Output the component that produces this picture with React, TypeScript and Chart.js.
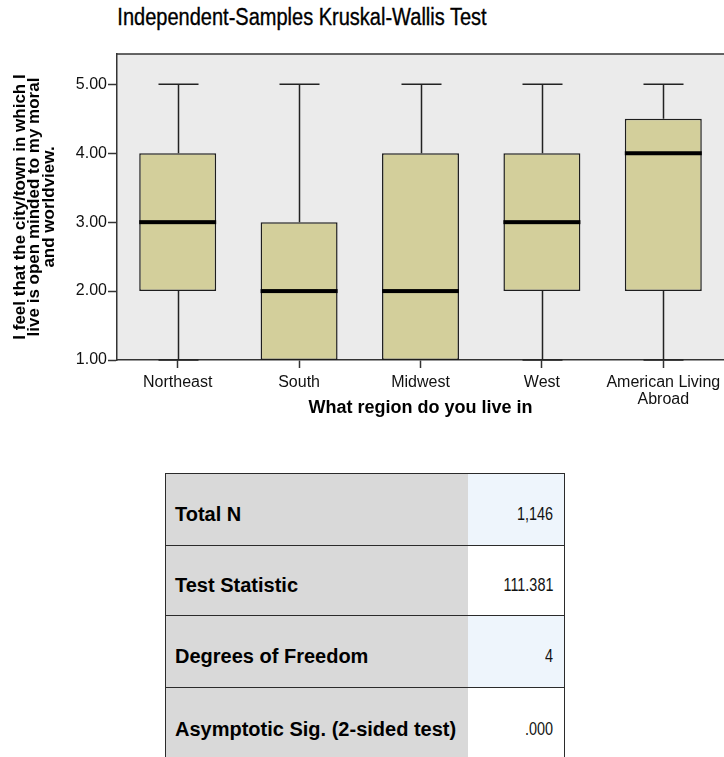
import React, { useEffect, useRef } from "react";
import { Chart, registerables } from "chart.js";

Chart.register(...registerables);

const FONT = "'Liberation Sans', Arial, Helvetica, sans-serif";

// ---- chart data ----
const chartTitle = "Independent-Samples Kruskal-Wallis Test";
const regions: (string | string[])[] = ["Northeast", "South", "Midwest", "West", ["American Living", "Abroad"]];
const minVals = [1, 1, 1, 1, 1];
const q1Vals = [2, 1, 1, 2, 2];
const medianVals = [3, 2, 2, 3, 4];
const q3Vals = [4, 3, 4, 4, 4.5];
const maxVals = [5, 5, 5, 5, 5];
const yAxisMin = 1;
const yAxisMax = 5.44;
const yAxisTitle = ["I feel that the city/town in which I", "live is open minded to my moral", "and worldview."];
const xAxisTitle = "What region do you live in";

// ---- table data ----
const tableLabels = ["Total N", "Test Statistic", "Degrees of Freedom", "Asymptotic Sig. (2-sided test)"];
const tableValues = ["1,146", "111.381", "4", ".000"];

const CANVAS_W = 724;
const CANVAS_H = 430;
const PLOT_LEFT = 117;
const PLOT_TOP = 54;
const PLOT_BOTTOM = 360;

const plotBgPlugin = {
  id: "plotBg",
  beforeDraw(chart: any) {
    const { ctx, chartArea } = chart;
    ctx.save();
    ctx.fillStyle = "#ebebeb";
    ctx.fillRect(chartArea.left, chartArea.top, chartArea.right - chartArea.left, chartArea.bottom - chartArea.top);
    ctx.restore();
  },
  afterDraw(chart: any) {
    const { ctx, chartArea } = chart;
    ctx.save();
    ctx.strokeStyle = "#333";
    ctx.lineWidth = 1.5;
    ctx.beginPath();
    ctx.moveTo(chartArea.left, chartArea.top);
    ctx.lineTo(chartArea.right, chartArea.top);
    ctx.stroke();
    ctx.restore();
  },
};

const boxPlugin = {
  id: "boxDecor",
  afterDatasetsDraw(chart: any) {
    const { ctx } = chart;
    const xs = chart.scales.x;
    const ys = chart.scales.y;
    const meta = chart.getDatasetMeta(0);
    ctx.save();
    regions.forEach((_, i) => {
      const cx = Math.round(xs.getPixelForValue(i)) + 0.5;
      const bar = meta.data[i];
      const w = bar.width;
      const capHalf = w * 0.26;
      ctx.strokeStyle = "#222";
      ctx.lineWidth = 1.5;
      if (maxVals[i] > q3Vals[i]) {
        const yTop = ys.getPixelForValue(maxVals[i]);
        const yQ3 = ys.getPixelForValue(q3Vals[i]);
        ctx.beginPath();
        ctx.moveTo(cx, yQ3);
        ctx.lineTo(cx, yTop);
        ctx.moveTo(cx - capHalf, yTop);
        ctx.lineTo(cx + capHalf, yTop);
        ctx.stroke();
      }
      if (minVals[i] < q1Vals[i]) {
        const yBot = ys.getPixelForValue(minVals[i]);
        const yQ1 = ys.getPixelForValue(q1Vals[i]);
        ctx.beginPath();
        ctx.moveTo(cx, yQ1);
        ctx.lineTo(cx, yBot);
        ctx.moveTo(cx - capHalf, yBot);
        ctx.lineTo(cx + capHalf, yBot);
        ctx.stroke();
      }
      const ym = ys.getPixelForValue(medianVals[i]);
      ctx.fillStyle = "#000";
      ctx.fillRect(bar.x - w / 2, ym - 2, w, 4);
    });
    ctx.restore();
  },
};

function BoxChart() {
  const ref = useRef<HTMLCanvasElement>(null);
  useEffect(() => {
    if (!ref.current) return;
    const chart = new Chart(ref.current, {
      type: "bar",
      data: {
        labels: regions as any,
        datasets: [
          {
            data: q1Vals.map((q, i) => [q, q3Vals[i]]) as any,
            backgroundColor: "#d3cf9b",
            borderColor: "#1e1e1e",
            borderWidth: 1.5,
            borderSkipped: false,
            barPercentage: 0.634,
            categoryPercentage: 1,
          },
        ],
      },
      options: {
        animation: false,
        responsive: false,
        devicePixelRatio: 1,
        layout: { padding: { left: 0, right: 0, top: PLOT_TOP, bottom: 0 } },
        plugins: { legend: { display: false }, tooltip: { enabled: false }, title: { display: false } },
        scales: {
          x: {
            type: "category",
            offset: true,
            ticks: {
              font: { family: FONT, size: 16, lineHeight: 1.05 },
              color: "#111",
              padding: 6,
              maxRotation: 0,
              minRotation: 0,
              autoSkip: false,
            },
            grid: { drawOnChartArea: false, offset: false, tickLength: 8, tickColor: "#333", tickWidth: 1.5 },
            border: { display: true, color: "#333", width: 1.5 },
            title: {
              display: true,
              text: xAxisTitle,
              font: { family: FONT, size: 18, weight: "bold", lineHeight: 1 },
              color: "#000",
              padding: { top: 0, bottom: 13 },
            },
            afterFit: (s: any) => {
              s.height = CANVAS_H - PLOT_BOTTOM;
              s.paddingLeft = 0;
              s.paddingRight = 0;
            },
          },
          y: {
            type: "linear",
            min: yAxisMin,
            max: yAxisMax,
            ticks: {
              stepSize: 1,
              includeBounds: false,
              callback: (v: any) => Number(v).toFixed(2),
              font: { family: FONT, size: 16 },
              color: "#111",
              padding: 1,
            },
            grid: { drawOnChartArea: false, tickLength: 9, tickColor: "#333", tickWidth: 1.5 },
            border: { display: true, color: "#333", width: 1.5 },
            title: {
              display: true,
              text: yAxisTitle,
              font: { family: FONT, size: 17, weight: "bold", lineHeight: 0.85 },
              color: "#000",
              padding: { top: 13, bottom: 0 },
            },
            afterFit: (s: any) => {
              s.width = PLOT_LEFT;
              s.paddingTop = 0;
              s.paddingBottom = 0;
            },
          },
        },
      },
      plugins: [plotBgPlugin, boxPlugin],
    } as any);
    return () => chart.destroy();
  }, []);
  return (
    <canvas
      ref={ref}
      width={CANVAS_W}
      height={CANVAS_H}
      style={{ position: "absolute", left: 0, top: 0, width: CANVAS_W, height: CANVAS_H }}
    />
  );
}

const rowHeights = [72, 70, 72, 74];
const valueBgs = ["#eef5fc", "#ffffff", "#eef5fc", "#ffffff"];

export default function App() {
  useEffect(() => {
    const prev = document.body.style.margin;
    document.body.style.margin = "0";
    return () => {
      document.body.style.margin = prev;
    };
  }, []);
  return (
    <div
      style={{
        position: "relative",
        width: 724,
        height: 757,
        overflow: "hidden",
        background: "#fff",
        fontFamily: FONT,
        color: "#000",
      }}
    >
      <div
        style={{
          position: "absolute",
          left: 0,
          top: 5,
          width: 604,
          textAlign: "center",
          fontSize: 23,
          lineHeight: "25px",
          whiteSpace: "nowrap",
          WebkitTextStroke: "0.35px #000",
          transform: "scaleX(0.87)",
          transformOrigin: "302px 50%",
        }}
      >
        {chartTitle}
      </div>
      <BoxChart />
      <div
        style={{
          position: "absolute",
          left: 165,
          top: 473,
          width: 400,
          borderTop: "1.5px solid #2b2b2b",
          borderLeft: "1.5px solid #2b2b2b",
          borderRight: "1.5px solid #2b2b2b",
          boxSizing: "border-box",
        }}
      >
        {tableLabels.map((lab, i) => (
          <div
            key={i}
            style={{
              display: "flex",
              height: rowHeights[i],
              borderBottom: "1.5px solid #2b2b2b",
              boxSizing: "border-box",
            }}
          >
            <div
              style={{
                width: 302,
                background: "#d9d9d9",
                fontWeight: "bold",
                fontSize: 20,
                display: "flex",
                alignItems: "center",
                paddingLeft: 9,
                paddingTop: 10,
                boxSizing: "border-box",
                whiteSpace: "nowrap",
              }}
            >
              {lab}
            </div>
            <div
              style={{
                flex: 1,
                background: valueBgs[i],
                fontSize: 18,
                display: "flex",
                alignItems: "center",
                justifyContent: "flex-end",
                paddingRight: 11,
                paddingTop: 10,
                boxSizing: "border-box",
                color: "#111",
              }}
            >
              <span style={{ display: "inline-block", transform: "scaleX(0.8)", transformOrigin: "right center" }}>
                {tableValues[i]}
              </span>
            </div>
          </div>
        ))}
      </div>
    </div>
  );
}
